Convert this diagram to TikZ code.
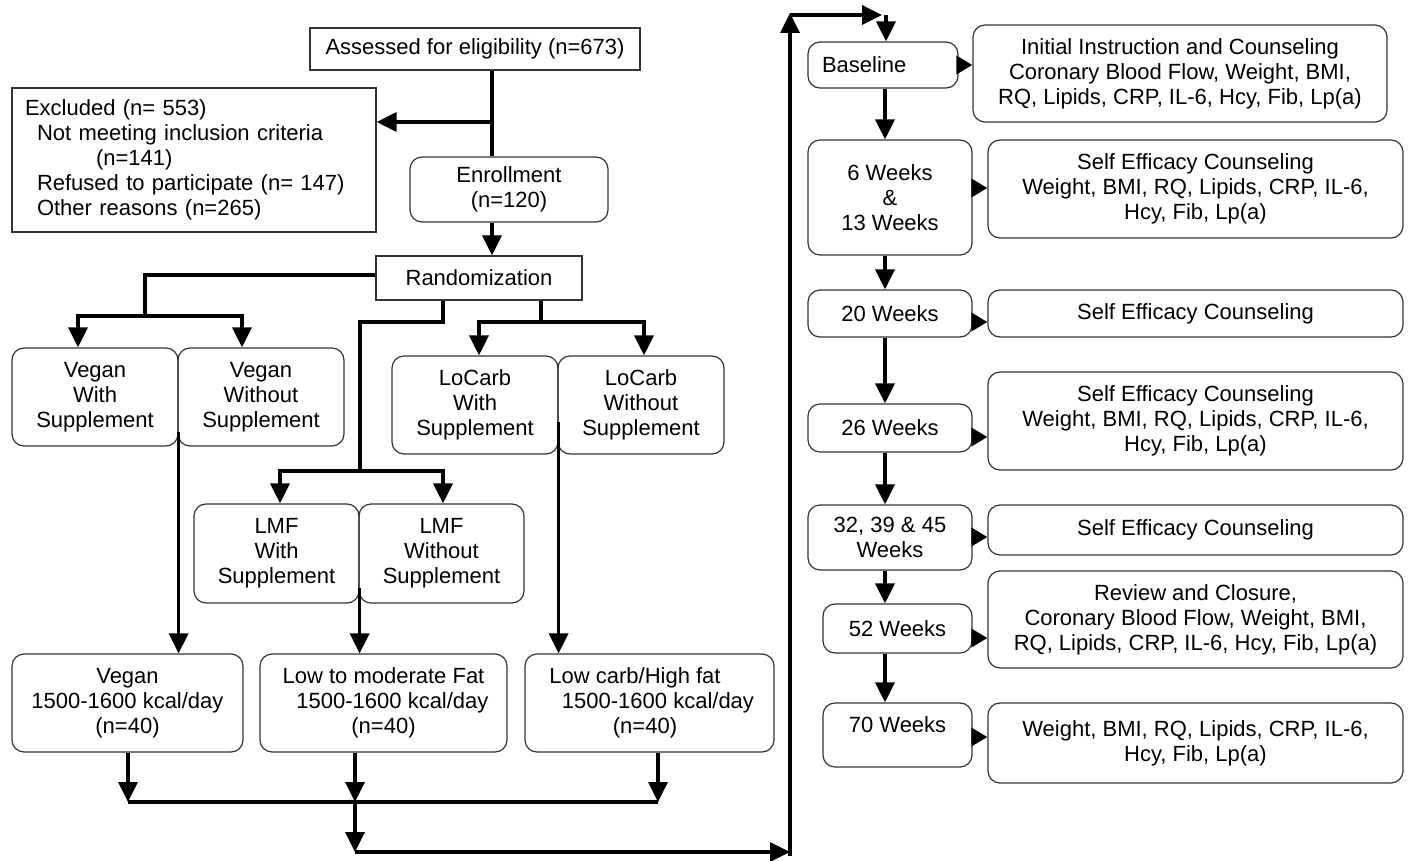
\documentclass[tikz,border=0pt]{standalone}
\usepackage{fontspec}
\setmainfont{Liberation Sans}
\usetikzlibrary{arrows.meta}
\begin{document}
\begin{tikzpicture}[x=1pt,y=-1pt,
  font=\fontsize{22}{25}\selectfont,
  box/.style={draw=black!80, line width=1.2pt, inner sep=0pt, align=center},
  rbox/.style={box, rounded corners=12pt},
  arm/.style={rbox, minimum width=166pt, minimum height=98pt},
  res/.style={rbox, minimum height=98pt},
  tbox/.style={rbox, minimum width=164pt},
  dbox/.style={rbox, minimum width=415pt},
  conn/.style={line width=3.5pt},
  arr/.style={conn, -{Triangle[length=20pt,width=19pt]}},
  sarr/.style={conn, -{Triangle[length=16pt,width=18pt]}},
]
\useasboundingbox (0,0) rectangle (1408,861);

% ---- left part ----
\node[box, minimum width=330pt, minimum height=42pt] (ass) at (475,49) {Assessed for eligibility (n=673)};
\node[box, minimum width=364pt, minimum height=144pt, text width=338pt, inner xsep=13pt, align=left] (excl) at (194,160)
  {Excluded (n= 553)\\\hspace*{12pt}Not meeting inclusion criteria\\\hspace*{71pt}(n=141)\\\hspace*{12pt}Refused to participate (n= 147)\\\hspace*{12pt}Other reasons (n=265)};
\node[rbox, minimum width=198pt, minimum height=65pt] (enr) at (509,189.5) {Enrollment\\(n=120)};
\node[box, minimum width=206pt, minimum height=44pt] (rand) at (479,278) {Randomization};

\node[arm] (vw) at (95,397) {Vegan\\With\\Supplement};
\node[arm] (vwo) at (261,397) {Vegan\\Without\\Supplement};
\node[arm] (lw) at (475,405) {LoCarb\\With\\Supplement};
\node[arm] (lwo) at (641,405) {LoCarb\\Without\\Supplement};
\node[arm, minimum width=165pt, minimum height=99pt] (mw) at (276.5,553.5) {LMF\\With\\Supplement};
\node[arm, minimum width=165pt, minimum height=99pt] (mwo) at (441.5,553.5) {LMF\\Without\\Supplement};

\node[res, minimum width=231pt] (rv) at (127.5,703) {Vegan\\1500-1600 kcal/day\\(n=40)};
\node[res, minimum width=247pt] (rm) at (383.5,703) {Low to moderate Fat\\\hspace*{18pt}1500-1600 kcal/day\\(n=40)};
\node[res, minimum width=249pt] (rl) at (649.5,703) {Low carb/High fat\hspace*{29pt}\\\hspace*{17pt}1500-1600 kcal/day\\(n=40)\hspace*{9pt}};

% ---- right part ----
\node[rbox, minimum width=150pt, minimum height=46pt, text width=122pt, inner xsep=14pt, align=left] (b1) at (883,65) {Baseline};
\node[rbox, minimum width=414pt, minimum height=97pt] (d1) at (1180,73.5) {Initial Instruction and Counseling\\Coronary Blood Flow, Weight, BMI,\\RQ, Lipids, CRP, IL-6, Hcy, Fib, Lp(a)};
\node[tbox, minimum height=115pt] (b2) at (890,197.5) {6 Weeks\\\&\\13 Weeks};
\node[dbox, minimum height=98pt] (d2) at (1195.5,189) {Self Efficacy Counseling\\Weight, BMI, RQ, Lipids, CRP, IL-6,\\Hcy, Fib, Lp(a)};
\node[tbox, minimum height=47pt] (b3) at (890,313.5) {20 Weeks};
\node[dbox, minimum height=47pt] (d3) at (1195.5,313.5) {Self Efficacy Counseling};
\node[tbox, minimum height=48pt] (b4) at (890,428) {26 Weeks};
\node[dbox, minimum height=98pt] (d4) at (1195.5,421) {Self Efficacy Counseling\\Weight, BMI, RQ, Lipids, CRP, IL-6,\\Hcy, Fib, Lp(a)};
\node[tbox, minimum height=65pt] (b5) at (890,537.5) {32, 39 \& 45\\Weeks};
\node[dbox, minimum height=50pt] (d5) at (1195.5,530) {Self Efficacy Counseling};
\node[rbox, minimum width=149pt, minimum height=49pt] (b6) at (897.5,628.5) {52 Weeks};
\node[dbox, minimum height=97pt] (d6) at (1195.5,619.5) {Review and Closure,\\Coronary Blood Flow, Weight, BMI,\\RQ, Lipids, CRP, IL-6, Hcy, Fib, Lp(a)};
\node[rbox, minimum width=149pt, minimum height=64pt] (b7) at (897.5,735) {\raisebox{10pt}[\height][\depth]{70 Weeks}};
\node[dbox, minimum height=80pt] (d7) at (1195.5,743) {Weight, BMI, RQ, Lipids, CRP, IL-6,\\Hcy, Fib, Lp(a)};

% ---- connectors, left ----
\coordinate (jA) at (492,122);
\draw[conn] (ass.south -| jA) -- (enr.north -| jA);
\draw[arr] (jA) -- (excl.east |- jA);
\draw[arr] (enr.south -| jA) -- (rand.north -| jA);

\coordinate (vA) at (145,275);
\coordinate (vB) at (145,316);
\draw[conn] (rand.west |- vA) -- (vA) -- (vB);
\draw[arr] (vB) -| (vw.north -| 78,0);
\draw[arr] (vB) -| (vwo.north -| 242,0);

\coordinate (mA) at (443,322);
\coordinate (mB) at (360,322);
\coordinate (mC) at (360,471);
\draw[conn] (rand.south -| mA) -- (mA) -- (mB) -- (mC);
\draw[arr] (mC) -| (mw.north -| 280,0);
\draw[arr] (mC) -| (mwo.north -| 443,0);

\coordinate (lA) at (541,322);
\draw[conn] (rand.south -| lA) -- (lA);
\draw[arr] (lA) -| (lw.north -| 479,0);
\draw[arr] (lA) -| (lwo.north -| 644,0);

\draw[arr] (vw.east |- 0,432) -- (rv.north -| vw.east);
\draw[arr] (mw.east |- 0,588) -- (rm.north -| mw.east);
\draw[arr] (lw.east |- 0,422) -- (rl.north -| lw.east);

\coordinate (bL) at (128,802);
\coordinate (bM) at (355,802);
\coordinate (bR) at (658,802);
\draw[arr] (rv.south -| bL) -- (bL);
\draw[arr] (rm.south -| bM) -- (bM);
\draw[arr] (rl.south -| bR) -- (bR);
\draw[conn] (bL) -- (bR);
\coordinate (cM) at (355,852);
\coordinate (cR) at (790,852);
\draw[arr] (bM) -- (cM);
\draw[arr] (cM) -- (cR);
\coordinate (uB) at (790,856);
\coordinate (uT) at (790,13);
\coordinate (uC) at (790,15);
\coordinate (tR) at (882,15);
\coordinate (tD) at (886,15);
\draw[arr] (uB) -- (uT);
\draw[arr] (uC) -- (tR);
\draw[arr] (tD) -- (b1.north -| tD);

% ---- connectors, right ----
\coordinate (cx) at (885,0);
\draw[arr] (b1.south -| cx) -- (b2.north -| cx);
\draw[arr] (b2.south -| cx) -- (b3.north -| cx);
\draw[arr] (b3.south -| cx) -- (b4.north -| cx);
\draw[arr] (b4.south -| cx) -- (b5.north -| cx);
\draw[arr] (b5.south -| cx) -- (b6.north -| cx);
\draw[arr] (b6.south -| cx) -- (b7.north -| cx);

\draw[sarr] (b1.east) -- (b1.east -| d1.west);
\draw[sarr] (b2.east |- 0,188) -- (d2.west |- 0,188);
\draw[sarr] (b3.east |- 0,322) -- (d3.west |- 0,322);
\draw[sarr] (b4.east |- 0,437) -- (d4.west |- 0,437);
\draw[sarr] (b5.east |- 0,537) -- (d5.west |- 0,537);
\draw[sarr] (b6.east |- 0,638) -- (d6.west |- 0,638);
\draw[sarr] (b7.east |- 0,737) -- (d7.west |- 0,737);
\end{tikzpicture}
\end{document}
